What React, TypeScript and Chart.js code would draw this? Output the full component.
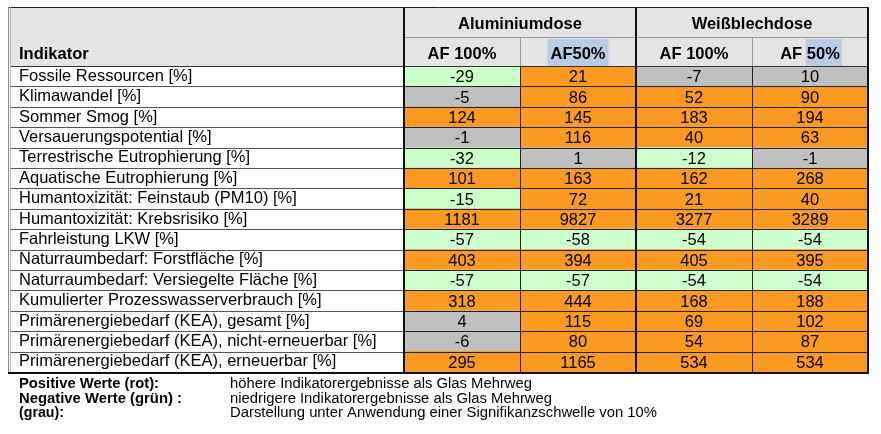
import { useEffect, useRef } from 'react';
import { Chart, registerables } from 'chart.js';

Chart.register(...registerables);

const indicators = [
  'Fossile Ressourcen [%]',
  'Klimawandel [%]',
  'Sommer Smog [%]',
  'Versauerungspotential [%]',
  'Terrestrische Eutrophierung [%]',
  'Aquatische Eutrophierung [%]',
  'Humantoxizität: Feinstaub (PM10) [%]',
  'Humantoxizität: Krebsrisiko [%]',
  'Fahrleistung LKW [%]',
  'Naturraumbedarf: Forstfläche [%]',
  'Naturraumbedarf: Versiegelte Fläche [%]',
  'Kumulierter Prozesswasserverbrauch [%]',
  'Primärenergiebedarf (KEA), gesamt [%]',
  'Primärenergiebedarf (KEA), nicht-erneuerbar [%]',
  'Primärenergiebedarf (KEA), erneuerbar [%]',
];
const headerTitle = 'Indikator';
const groups = ['Aluminiumdose', 'Weißblechdose'];
const columns = ['AF 100%', 'AF50%', 'AF 100%', 'AF 50%'];
const alu100 = [-29, -5, 124, -1, -32, 101, -15, 1181, -57, 403, -57, 318, 4, -6, 295];
const alu50 = [21, 86, 145, 116, 1, 163, 72, 9827, -58, 394, -57, 444, 115, 80, 1165];
const wb100 = [-7, 52, 183, 40, -12, 162, 21, 3277, -54, 405, -54, 168, 69, 54, 534];
const wb50 = [10, 90, 194, 63, -1, 268, 40, 3289, -54, 395, -54, 188, 102, 87, 534];
const legendKeys = ['Positive Werte (rot):', 'Negative Werte (grün) :', '(grau):'];
const legendTexts = [
  'höhere Indikatorergebnisse als Glas Mehrweg',
  'niedrigere Indikatorergebnisse als Glas Mehrweg',
  'Darstellung unter Anwendung einer Signifikanzschwelle von 10%',
];

const seriesValues = [alu100, alu50, wb100, wb50];

const ORANGE = '#fb9a22';
const GREEN = '#ccffcc';
const GRAY = '#c0c0c0';
const colorFor = (v: number) => (v > 10 ? ORANGE : v < -10 ? GREEN : GRAY);

const FONT = '"Liberation Sans", Arial, sans-serif';

const tablePlugin = {
  id: 'tablePlugin',
  beforeDraw(chart: any) {
    const { ctx, chartArea: ca, scales } = chart;
    const x = scales.x;
    const L = 10;
    const top = 7;
    const right = x.getPixelForValue(4);
    ctx.save();
    ctx.fillStyle = '#e4e4e4';
    ctx.fillRect(L, top, right - L, ca.top - top);
    ctx.restore();
  },
  afterDraw(chart: any) {
    const { ctx, chartArea: ca, scales } = chart;
    const x = scales.x;
    const y = scales.y;
    const L = 10;
    const top = 7;
    const h1 = 37;
    const hb = ca.top;
    const B = ca.bottom;
    const xs = [0, 1, 2, 3, 4].map((v) => x.getPixelForValue(v));
    const step = y.getPixelForValue(1) - y.getPixelForValue(0);
    const rb: number[] = [];
    for (let i = 0; i <= indicators.length; i++) rb.push(y.getPixelForValue(i) - step / 2);

    ctx.save();
    // header highlights
    ctx.font = `bold 16.5px ${FONT}`;
    const c1 = (xs[1] + xs[2]) / 2;
    const w1 = ctx.measureText(columns[1]).width;
    ctx.fillStyle = '#b8cce4';
    ctx.fillRect(c1 - w1 / 2 - 3, 39, w1 + 6, 27);
    const c3 = (xs[3] + xs[4]) / 2;
    const w3 = ctx.measureText(columns[3]).width;
    const wAF = ctx.measureText('AF ').width;
    ctx.fillRect(c3 - w3 / 2 + wAF - 1, 39, w3 - wAF + 3, 27);

    // header texts
    ctx.fillStyle = '#000';
    ctx.textBaseline = 'alphabetic';
    ctx.textAlign = 'left';
    ctx.fillText(headerTitle, 19, 59);
    ctx.textAlign = 'center';
    ctx.fillText(groups[0], (xs[0] + xs[2]) / 2, 29);
    ctx.fillText(groups[1], (xs[2] + xs[4]) / 2, 29);
    for (let c = 0; c < 4; c++) {
      ctx.fillText(columns[c], (xs[c] + xs[c + 1]) / 2, 59);
    }

    // cell values
    ctx.font = `16.5px ${FONT}`;
    for (let c = 0; c < 4; c++) {
      const meta = chart.getDatasetMeta(c);
      meta.data.forEach((el: any, i: number) => {
        const cx = (el.x + el.base) / 2;
        ctx.fillText(String(seriesValues[c][i]), cx, el.y + 6);
      });
    }

    // row lines
    ctx.lineWidth = 1;
    for (let i = 1; i < indicators.length; i++) {
      const yy = Math.round(rb[i]) + 0.5;
      ctx.strokeStyle = '#555';
      ctx.beginPath();
      ctx.moveTo(L, yy);
      ctx.lineTo(xs[0], yy);
      ctx.stroke();
      ctx.strokeStyle = '#222';
      ctx.beginPath();
      ctx.moveTo(xs[0], yy);
      ctx.lineTo(xs[4], yy);
      ctx.stroke();
    }
    // header lines
    ctx.strokeStyle = '#9a9a9a';
    ctx.beginPath();
    ctx.moveTo(xs[0], h1 + 0.5);
    ctx.lineTo(xs[4], h1 + 0.5);
    ctx.stroke();
    ctx.beginPath();
    ctx.moveTo(Math.round(xs[1]) + 0.5, h1);
    ctx.lineTo(Math.round(xs[1]) + 0.5, hb);
    ctx.moveTo(Math.round(xs[3]) + 0.5, h1);
    ctx.lineTo(Math.round(xs[3]) + 0.5, hb);
    ctx.stroke();
    ctx.strokeStyle = '#333';
    ctx.beginPath();
    ctx.moveTo(L, Math.round(hb) + 0.5);
    ctx.lineTo(xs[4], Math.round(hb) + 0.5);
    ctx.stroke();
    // thin data vertical lines
    ctx.strokeStyle = '#222';
    ctx.beginPath();
    ctx.moveTo(Math.round(xs[1]) + 0.5, hb);
    ctx.lineTo(Math.round(xs[1]) + 0.5, B);
    ctx.moveTo(Math.round(xs[3]) + 0.5, hb);
    ctx.lineTo(Math.round(xs[3]) + 0.5, B);
    ctx.stroke();
    // thick vertical lines
    ctx.strokeStyle = '#111';
    ctx.lineWidth = 2;
    ctx.beginPath();
    [xs[0], xs[2], xs[4]].forEach((xx) => {
      ctx.moveTo(Math.round(xx), top);
      ctx.lineTo(Math.round(xx), B + 1);
    });
    ctx.stroke();
    // top border
    ctx.lineWidth = 1;
    ctx.strokeStyle = '#222';
    ctx.beginPath();
    ctx.moveTo(L - 2, top + 0.5);
    ctx.lineTo(xs[4] + 1, top + 0.5);
    ctx.stroke();
    // bottom border
    ctx.lineWidth = 2;
    ctx.strokeStyle = '#111';
    ctx.beginPath();
    ctx.moveTo(L - 2, Math.round(B) + 1);
    ctx.lineTo(xs[4] + 1, Math.round(B) + 1);
    ctx.stroke();
    // left double border
    ctx.lineWidth = 1;
    ctx.strokeStyle = '#8a8a8a';
    ctx.beginPath();
    ctx.moveTo(8.5, top);
    ctx.lineTo(8.5, B);
    ctx.stroke();
    ctx.strokeStyle = '#b5b5b5';
    ctx.beginPath();
    ctx.moveTo(10.5, top);
    ctx.lineTo(10.5, B);
    ctx.stroke();

    // footnotes
    const fit = (text: string, xx: number, yy: number, target: number) => {
      const w = ctx.measureText(text).width;
      ctx.save();
      ctx.translate(xx, yy);
      ctx.scale(target / w, 1);
      ctx.fillText(text, 0, 0);
      ctx.restore();
    };
    ctx.textAlign = 'left';
    ctx.textBaseline = 'alphabetic';
    ctx.fillStyle = '#000';
    const baselines = [388, 402.5, 417];
    const keyWidths = [140, 163, 45];
    const textWidths = [302, 322, 427];
    ctx.font = `bold 14px ${FONT}`;
    legendKeys.forEach((t, i) => fit(t, 19, baselines[i], keyWidths[i]));
    ctx.font = `14px ${FONT}`;
    legendTexts.forEach((t, i) => fit(t, 230, baselines[i], textWidths[i]));
    ctx.restore();
  },
};

export default function App() {
  const ref = useRef<HTMLCanvasElement | null>(null);
  useEffect(() => {
    if (!ref.current) return;
    const chart = new Chart(ref.current, {
      type: 'bar',
      data: {
        labels: indicators,
        datasets: seriesValues.map((vals, c) => ({
          label: columns[c],
          data: vals.map(() => [c, c + 1]) as any,
          backgroundColor: vals.map(colorFor),
          borderWidth: 0,
          barPercentage: 1,
          categoryPercentage: 1,
          grouped: false,
        })),
      },
      options: {
        indexAxis: 'y',
        animation: false,
        responsive: true,
        maintainAspectRatio: false,
        layout: { padding: { top: 66, bottom: 62, left: 19, right: 13 } },
        plugins: { legend: { display: false }, tooltip: { enabled: false } },
        scales: {
          x: { type: 'linear', min: 0, max: 4, display: false },
          y: {
            type: 'category',
            grid: { display: false },
            border: { display: false },
            ticks: {
              autoSkip: false,
              crossAlign: 'far',
              padding: 0,
              color: '#000',
              font: { family: '"Liberation Sans", Arial, sans-serif', size: 16.5 },
            },
            afterFit: (scale: any) => {
              scale.width = 385;
            },
          },
        },
      } as any,
      plugins: [tablePlugin],
    });
    return () => chart.destroy();
  }, []);
  return (
    <div style={{ position: 'absolute', left: 0, top: 0, width: 881, height: 434, background: '#fff' }}>
      <canvas ref={ref} />
    </div>
  );
}
